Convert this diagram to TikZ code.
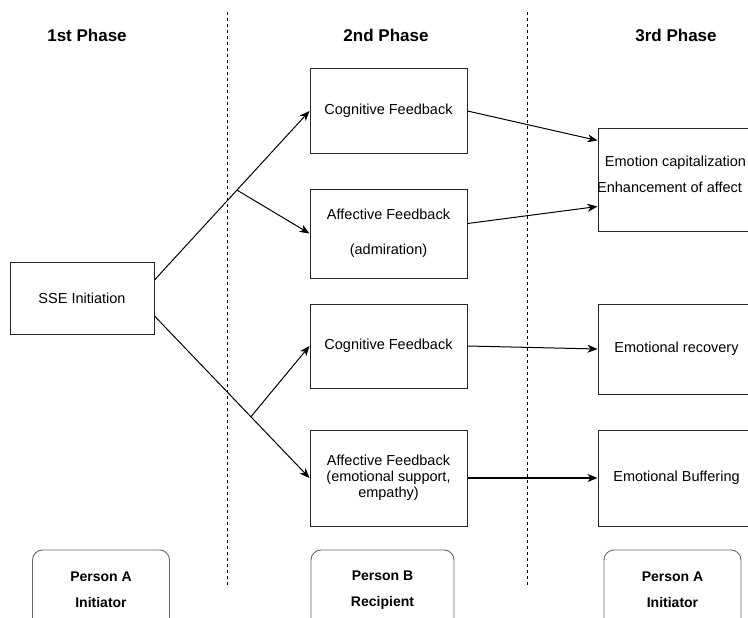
\documentclass[tikz,border=0pt]{standalone}
\usepackage{fontspec}
\setmainfont{Liberation Sans}
\usetikzlibrary{arrows.meta,calc}
\begin{document}
\begin{tikzpicture}[x=1pt,y=-1pt,
  box/.style={draw=black!85,line width=1pt,minimum width=157pt,align=center,inner sep=0pt,
    font=\fontsize{14.5}{16}\selectfont},
  rbox/.style={draw=black!60,line width=0.9pt,rounded corners=10pt,align=center,inner sep=0pt,
    minimum height=80pt,font=\bfseries\fontsize{14}{26}\selectfont},
  hdr/.style={font=\bfseries\fontsize{17}{20}\selectfont,inner sep=0pt},
  txt/.style={font=\fontsize{14.5}{16}\selectfont,inner sep=0pt},
  sep/.style={line width=0.9pt,dash pattern=on 3pt off 3pt},
  conn/.style={line width=1pt,-{Stealth[length=10pt,width=8pt,inset=3pt]}},
  plain/.style={line width=1pt}
]
\useasboundingbox (0,0) rectangle (748,618);

% separators
\coordinate (s1a) at (227,12); \coordinate (s1b) at (227,585);
\coordinate (s2a) at (527,12); \coordinate (s2b) at (527,585);
\draw[sep] (s1a) -- (s1b);
\draw[sep] (s2a) -- (s2b);

% headers
\node[hdr] (h1) at (87,35) {1st Phase};
\node[hdr] (h2) at (386,35) {2nd Phase};
\node[hdr] (h3) at (676,35) {3rd Phase};

% boxes
\node[box,minimum width=144pt,minimum height=72pt] (sse) at (82,298) {SSE Initiation};
\node[box,minimum height=84pt] (cf1) at (388.5,111) {Cognitive Feedback};
\node[box,minimum height=89pt] (af1) at (388.5,233.5) {Affective Feedback\\[19pt](admiration)};
\node[box,minimum height=84pt] (cf2) at (388.5,346) {Cognitive Feedback};
\node[box,minimum height=96pt] (af2) at (388.5,478) {Affective Feedback\\(emotional support,\\empathy)};

\node[box,minimum height=102pt] (ec) at (676.5,180) {};
\node[txt] (ect1) at (675.5,163) {Emotion capitalization};
\node[txt,anchor=west] (ect2) at (597,187) {Enhancement of affect};
\node[box,minimum height=90pt] (er) at (676.5,349) {Emotional recovery};
\node[box,minimum height=96pt] (eb) at (676.5,478) {Emotional Buffering};

% bottom
\node[rbox,minimum width=137pt] (pa1) at (101,590) {Person A\\Initiator};
\node[rbox,minimum width=143pt] (pb) at (382.5,590) {Person B\\Recipient};
\node[rbox,minimum width=137pt] (pa2) at (672.5,590) {Person A\\Initiator};

% connectors phase 1 -> 2
\draw[conn] ($(sse.east)+(0,-18)$) -- coordinate[pos=0.532] (b1) (cf1.west);
\draw[conn] (b1) -- (af1.west);
\draw[conn] ($(sse.east)+(0,18)$) -- coordinate[pos=0.622] (b2) (af2.west);
\draw[conn] (b2) -- (cf2.west);

% connectors phase 2 -> 3
\draw[conn] (cf1.east) -- ($(ec.north west)+(0,12)$);
\draw[conn] ($(af1.east)+(0,-10)$) -- ($(ec.south west)+(0,-25)$);
\draw[conn] (cf2.east) -- (er.west);
\draw[conn,line width=1.6pt] (af2.east) -- (eb.west);
\end{tikzpicture}
\end{document}
